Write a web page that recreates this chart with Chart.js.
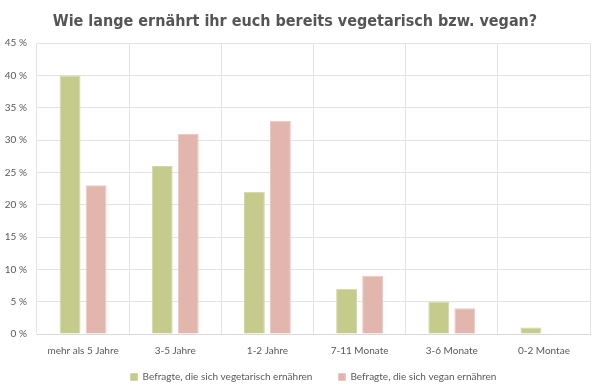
<!DOCTYPE html>
<html>
<head>
<meta charset="utf-8">
<script src="https://cdn.jsdelivr.net/npm/chart.js@4"></script>
<style>
  html, body { margin: 0; padding: 0; background: #fff; }
  #wrap { width: 600px; height: 387px; }
</style>
</head>
<body>
<div id="wrap"><canvas id="chart"></canvas></div>
<script>
// data
var categories = ['mehr als 5 Jahre', '3-5 Jahre', '1-2 Jahre', '7-11 Monate', '3-6 Monate', '0-2 Montae'];
var vegetarisch = [40, 26, 22, 7, 5, 1];
var vegan = [23, 31, 33, 9, 4, 0];
var seriesNames = ['Befragte, die sich vegetarisch ernähren', 'Befragte, die sich vegan ernähren'];
var yTicks = [0, 5, 10, 15, 20, 25, 30, 35, 40, 45];

var tickFont = { family: 'Lato', size: 10 };

var ctx = document.getElementById('chart').getContext('2d');
new Chart(ctx, {
    type: 'bar',
    data: {
        labels: categories,
        datasets: [
            {
                label: seriesNames[0],
                data: vegetarisch,
                backgroundColor: '#c5cb8a',
                borderColor: '#d3d7a6',
                borderWidth: 1,
                categoryPercentage: 0.565,
                barPercentage: 0.8
            },
            {
                label: seriesNames[1],
                data: vegan,
                backgroundColor: '#e2b5ad',
                borderColor: '#ebc9c2',
                borderWidth: 1,
                categoryPercentage: 0.565,
                barPercentage: 0.8
            }
        ]
    },
    options: {
        responsive: true,
        maintainAspectRatio: false,
        animation: false,
        layout: { padding: { left: 0, right: 10, top: 0, bottom: -5 } },
        plugins: {
            title: {
                display: true,
                text: 'Wie lange ernährt ihr euch bereits vegetarisch bzw. vegan?',
                color: '#555555',
                font: { family: "'DejaVu Sans Condensed', 'DejaVu Sans', sans-serif", size: 16, weight: 'bold', lineHeight: 1.2 },
                padding: { top: 12, bottom: 12 }
            },
            legend: {
                position: 'bottom',
                fullSize: false,
                labels: {
                    color: '#595959',
                    font: tickFont,
                    boxWidth: 7,
                    boxHeight: 7,
                    padding: 1,
                    // wider gap between the two entries, like the original
                    generateLabels: function (chart) {
                        var items = Chart.defaults.plugins.legend.labels.generateLabels(chart);
                        items[0].text = items[0].text + '\u2002\u2002\u2002\u2002\u2002';
                        return items;
                    }
                }
            },
            tooltip: { enabled: false }
        },
        scales: {
            x: {
                afterFit: function (scale) { scale.height = 37; },
                grid: { color: '#e3e3e3', drawTicks: false },
                border: { color: '#d9d9d9' },
                ticks: { color: '#595959', font: tickFont, padding: 11, maxRotation: 0 }
            },
            y: {
                min: yTicks[0],
                max: yTicks[yTicks.length - 1],
                afterFit: function (scale) { scale.width = 37; },
                afterBuildTicks: function (scale) {
                    scale.ticks = yTicks.map(function (v) { return { value: v }; });
                },
                grid: { color: '#e3e3e3', drawTicks: false },
                border: { display: false },
                ticks: {
                    color: '#595959',
                    font: tickFont,
                    padding: 10,
                    callback: function (v) { return v + ' %'; }
                }
            }
        }
    }
});
</script>
</body>
</html>
